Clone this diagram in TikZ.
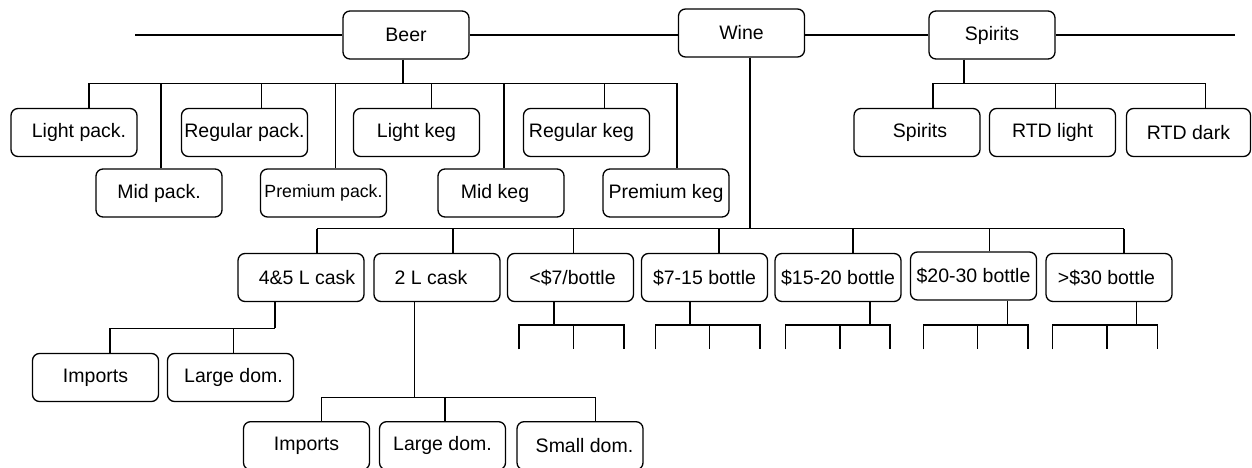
\documentclass[tikz,border=0pt]{standalone}
\usepackage{fontspec}
\setmainfont{Liberation Sans}
\newcommand\mydrop[3]{\draw[ln] ([xshift=#2]#1.north) -- ([xshift=#2]#1.north |- #3);}
\newcommand\mystem[3]{\draw[ln] ([xshift=#2]#1.south) -- ([xshift=#2]#1.south |- #3);}
\newcommand\mystubs[5]{%
  \mystem{#1}{#2}{ubus}
  \draw[ln] ([xshift=#3]#1.south |- uend) |- ([xshift=#5]#1.south |- ubus) -- ([xshift=#5]#1.south |- uend);
  \draw[ln] ([xshift=#4]#1.south |- ubus) -- ([xshift=#4]#1.south |- uend);}
\begin{document}
\begin{tikzpicture}[x=1pt,y=-1pt,
  box/.style={draw, rounded corners=7pt, line width=1.3pt, minimum width=126pt,
    minimum height=48pt, inner sep=0pt, font=\fontsize{19.5}{23}\selectfont},
  ln/.style={line width=1.3pt}]
\useasboundingbox (0,0) rectangle (1252,468);
\clip (0,0) rectangle (1252,468);
% top level
\node[box] (beer) at (406,35) {Beer};
\node[box] (wine) at (741.5,33) {Wine};
\node[box] (spirits) at (992,35) {Spirits};
% beer children
\node[box] (lpack) at (74,132.5) {\hspace*{10pt}Light pack.};
\node[box] (rpack) at (244.5,132.5) {Regular pack.};
\node[box] (lkeg) at (416.5,132.5) {Light keg};
\node[box] (rkeg) at (586.5,132.5) {Regular keg\hspace*{10pt}};
\node[box] (mpack) at (159,193) {Mid pack.};
\node[box, font=\fontsize{17.7}{21}\selectfont] (ppack) at (323.5,193) {Premium pack.};
\node[box] (mkeg) at (501,193) {Mid keg\hspace*{12pt}};
\node[box] (pkeg) at (666,193) {Premium keg};
% spirits children
\node[box] (sp) at (917,132.5) {\hspace*{6pt}Spirits};
\node[box] (rtdl) at (1052.5,132.5) {RTD light};
\node[box, minimum width=124pt] (rtdd) at (1188.5,132.5) {RTD dark};
% wine children
\node[box] (c45) at (301,277.5) {\hspace*{12pt}4\&5 L cask};
\node[box] (c2) at (437,277.5) {2 L cask\hspace*{12pt}};
\node[box] (b7) at (570.5,277.5) {\hspace*{4pt}<\$7/bottle};
\node[box] (b715) at (704.5,277.5) {\$7-15 bottle};
\node[box] (b1520) at (838,277.5) {\$15-20 bottle};
\node[box] (b2030) at (973.5,276) {\$20-30 bottle};
\node[box] (b30) at (1109,277.5) {>\$30 bottle\hspace*{5pt}};
% cask children
\node[box] (imp1) at (95.5,377.5) {Imports};
\node[box] (lg1) at (230.5,377.5) {\hspace*{6pt}Large dom.};
\node[box] (imp2) at (306.5,445.7) {Imports};
\node[box] (lg2) at (442.5,445.7) {Large dom.};
\node[box] (sm2) at (580,445.7) {\hspace*{9pt}Small dom.};
% top line
\coordinate (tl) at (135,35);
\coordinate (tr) at (1235,35);
\draw[ln] (tl) -- (beer.west);
\draw[ln] (beer.east) -- (beer.east -| wine.west);
\draw[ln] (wine.east |- spirits.west) -- (spirits.west);
\draw[ln] (spirits.east) -- (tr);
% beer tree
\coordinate (bbus) at (0,83.3);
\mystem{beer}{-3}{bbus}
\draw[ln] ([xshift=15]lpack.north |- bbus) -- ([xshift=11]pkeg.north |- bbus);
\mydrop{lpack}{15}{bbus}
\mydrop{mpack}{2}{bbus}
\mydrop{rpack}{17}{bbus}
\mydrop{ppack}{12}{bbus}
\mydrop{lkeg}{15}{bbus}
\mydrop{mkeg}{3}{bbus}
\mydrop{rkeg}{18}{bbus}
\mydrop{pkeg}{11}{bbus}
% spirits tree
\coordinate (sbus) at (0,83.3);
\mystem{spirits}{-28}{sbus}
\draw[ln] ([xshift=16]sp.north |- sbus) -- ([xshift=17.2]rtdd.north |- sbus);
\mydrop{sp}{16}{sbus}
\mydrop{rtdl}{3}{sbus}
\mydrop{rtdd}{17.2}{sbus}
% wine tree
\coordinate (wbus) at (0,228.7);
\mystem{wine}{8.5}{wbus}
\draw[ln] ([xshift=16]c45.north |- wbus) -- ([xshift=15]b30.north |- wbus);
\mydrop{c45}{16}{wbus}
\mydrop{c2}{16}{wbus}
\mydrop{b7}{3}{wbus}
\mydrop{b715}{14.5}{wbus}
\mydrop{b1520}{15}{wbus}
\mydrop{b2030}{16}{wbus}
\mydrop{b30}{15}{wbus}
% 4&5 L cask tree
\coordinate (cbus) at (0,328.3);
\mystem{c45}{-26}{cbus}
\draw[ln] ([xshift=14.5]imp1.north |- cbus) -- ([xshift=-26]c45.south |- cbus);
\mydrop{imp1}{14.5}{cbus}
\mydrop{lg1}{3}{cbus}
% 2 L cask tree
\coordinate (dbus) at (0,397.3);
\mystem{c2}{-22.7}{dbus}
\draw[ln] ([xshift=15]imp2.north |- dbus) -- ([xshift=15.7]sm2.north |- dbus);
\mydrop{imp2}{15}{dbus}
\mydrop{lg2}{2.5}{dbus}
\mydrop{sm2}{15.7}{dbus}
% bottle stubs
\coordinate (ubus) at (0,325);
\coordinate (uend) at (0,349.3);
\mystubs{b7}{-16.5}{-51.5}{2.8}{53.5}
\mystubs{b715}{-14.5}{-49.2}{5.2}{55.5}
\mystubs{b1520}{32}{-52.3}{2}{52}
\mystubs{b2030}{34.2}{-50.2}{4.2}{54.5}
\mystubs{b30}{27.7}{-56.3}{-2}{48.3}
\end{tikzpicture}
\end{document}
